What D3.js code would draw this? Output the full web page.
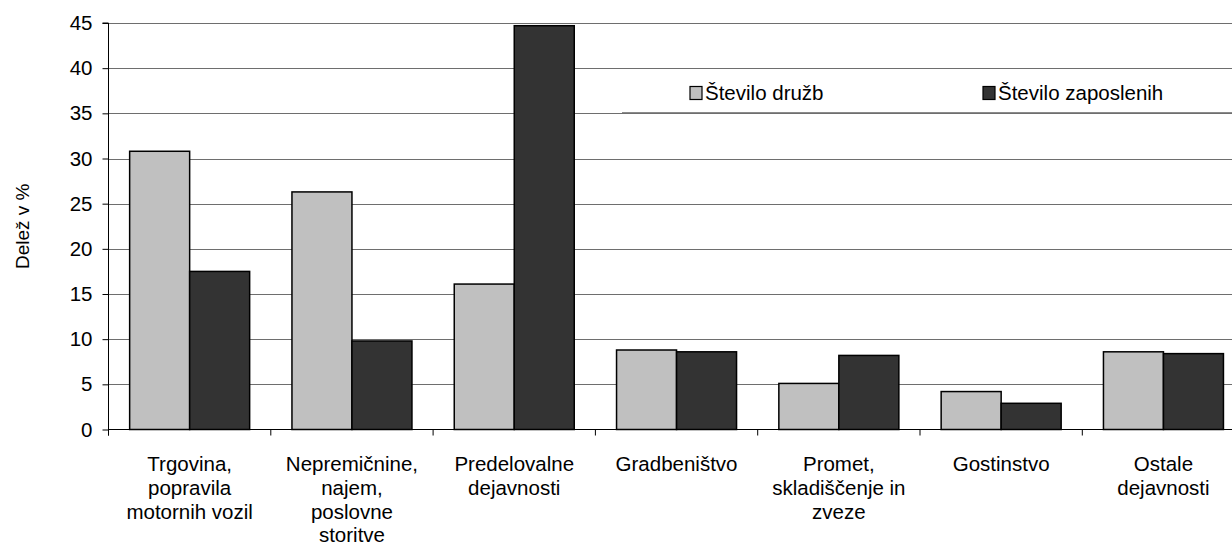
<!DOCTYPE html>
<html>
<head>
<meta charset="utf-8">
<script src="https://cdn.jsdelivr.net/npm/d3@7"></script>
<style>
  html, body { margin: 0; padding: 0; background: #fff; }
  svg { display: block; font-family: "Liberation Sans", Arial, sans-serif; }
</style>
</head>
<body>
<svg id="chart" width="1232" height="559"></svg>
<script>
const categories = [
  ["Trgovina,", "popravila", "motornih vozil"],
  ["Nepremičnine,", "najem,", "poslovne", "storitve"],
  ["Predelovalne", "dejavnosti"],
  ["Gradbeništvo"],
  ["Promet,", "skladiščenje in", "zveze"],
  ["Gostinstvo"],
  ["Ostale", "dejavnosti"]
];
const seriesNames = ["Število družb", "Število zaposlenih"];
const steviloDruzb = [30.8, 26.3, 16.1, 8.8, 5.1, 4.2, 8.6];
const steviloZaposlenih = [17.5, 9.8, 44.7, 8.6, 8.2, 2.9, 8.4];
const yTicks = [0, 5, 10, 15, 20, 25, 30, 35, 40, 45];
const seriesColors = ["#c0c0c0", "#333333"];
const yTitle = "Delež v %";

const svg = d3.select("#chart");
const pLeft = 108.5, pRight = 1244.6, pTop = 23, pBottom = 429.5;
const catIdx = categories.map((d, i) => i);
const FS = 20.5;

const x0 = d3.scaleBand().domain(catIdx).range([pLeft, pRight]).paddingInner(0).paddingOuter(0);
const x1 = d3.scaleBand().domain([0, 1]).range([0, x0.bandwidth()]).paddingInner(0).paddingOuter(0.3525);
const y = d3.scaleLinear().domain([0, 45]).range([pBottom, pTop]);

// gridlines
svg.append("g").selectAll("line").data(yTicks.filter(t => t > 0)).join("line")
  .attr("x1", pLeft).attr("x2", 1232)
  .attr("y1", d => Math.round(y(d)) + 0.5).attr("y2", d => Math.round(y(d)) + 0.5)
  .attr("stroke", "#6e6e6e").attr("stroke-width", 1.2);

// legend box (white, covers gridlines), only top/bottom edges visible
const lbTop = Math.round(y(40)) + 0.5, lbBot = Math.round(y(35)) - 0.5;
svg.append("rect").attr("x", 622).attr("y", lbTop).attr("width", 640).attr("height", lbBot - lbTop)
  .attr("fill", "#fff");
svg.append("line").attr("x1", 622).attr("x2", 1232).attr("y1", lbTop).attr("y2", lbTop)
  .attr("stroke", "#6e6e6e").attr("stroke-width", 1.2);
svg.append("line").attr("x1", 622).attr("x2", 1232).attr("y1", lbBot).attr("y2", lbBot)
  .attr("stroke", "#8a8a8a").attr("stroke-width", 1.2);

// bars
const values = [steviloDruzb, steviloZaposlenih];
const g = svg.append("g");
catIdx.forEach(ci => {
  [0, 1].forEach(si => {
    const v = values[si][ci];
    g.append("rect")
      .attr("x", x0(ci) + x1(si))
      .attr("y", y(v))
      .attr("width", x1.bandwidth())
      .attr("height", y(0) - y(v))
      .attr("fill", seriesColors[si])
      .attr("stroke", "#000").attr("stroke-width", 1.5);
  });
});

// y axis
const yAxis = d3.axisLeft(y).tickValues(yTicks).tickSize(6).tickPadding(10).tickFormat(d3.format("d"));
const ya = svg.append("g").attr("transform", `translate(${pLeft},0)`).call(yAxis);
ya.select(".domain").attr("stroke", "#000").attr("d", `M-6,${pTop}H0V${pBottom + 6}`);
ya.selectAll(".tick line").attr("stroke", "#000");
ya.selectAll(".tick text").attr("font-size", FS).attr("fill", "#000").attr("font-family", "'Liberation Sans', Arial, sans-serif");

// x axis baseline and ticks
const xa = svg.append("g");
xa.append("line").attr("x1", pLeft).attr("x2", 1232).attr("y1", pBottom).attr("y2", pBottom).attr("stroke", "#000").attr("stroke-width", 1.2);
xa.selectAll("line.tk").data(catIdx.map(i => x0(i))).join("line").attr("class", "tk")
  .attr("x1", d => d).attr("x2", d => d).attr("y1", pBottom).attr("y2", pBottom + 6).attr("stroke", "#000");

// category labels
catIdx.forEach(ci => {
  const cx = x0(ci) + x0.bandwidth() / 2;
  const t = svg.append("text")
    .attr("x", cx).attr("y", 471)
    .attr("text-anchor", "middle")
    .attr("font-size", FS).attr("fill", "#000");
  categories[ci].forEach((line, li) => {
    t.append("tspan").attr("x", cx).attr("y", 471 + li * 23.8).text(line);
  });
});

// y title
svg.append("text")
  .attr("transform", `translate(29,${(pTop + pBottom) / 2}) rotate(-90)`)
  .attr("text-anchor", "middle").attr("font-size", 19).attr("fill", "#000")
  .text(yTitle);

// legend
const legendX = [690, 983];
seriesNames.forEach((name, i) => {
  svg.append("rect").attr("x", legendX[i]).attr("y", 86.5).attr("width", 12).attr("height", 13)
    .attr("fill", seriesColors[i]).attr("stroke", "#000").attr("stroke-width", 1.2);
  svg.append("text").attr("x", legendX[i] + 15).attr("y", 99.5).attr("font-size", FS).attr("fill", "#000").text(name);
});
</script>
</body>
</html>
